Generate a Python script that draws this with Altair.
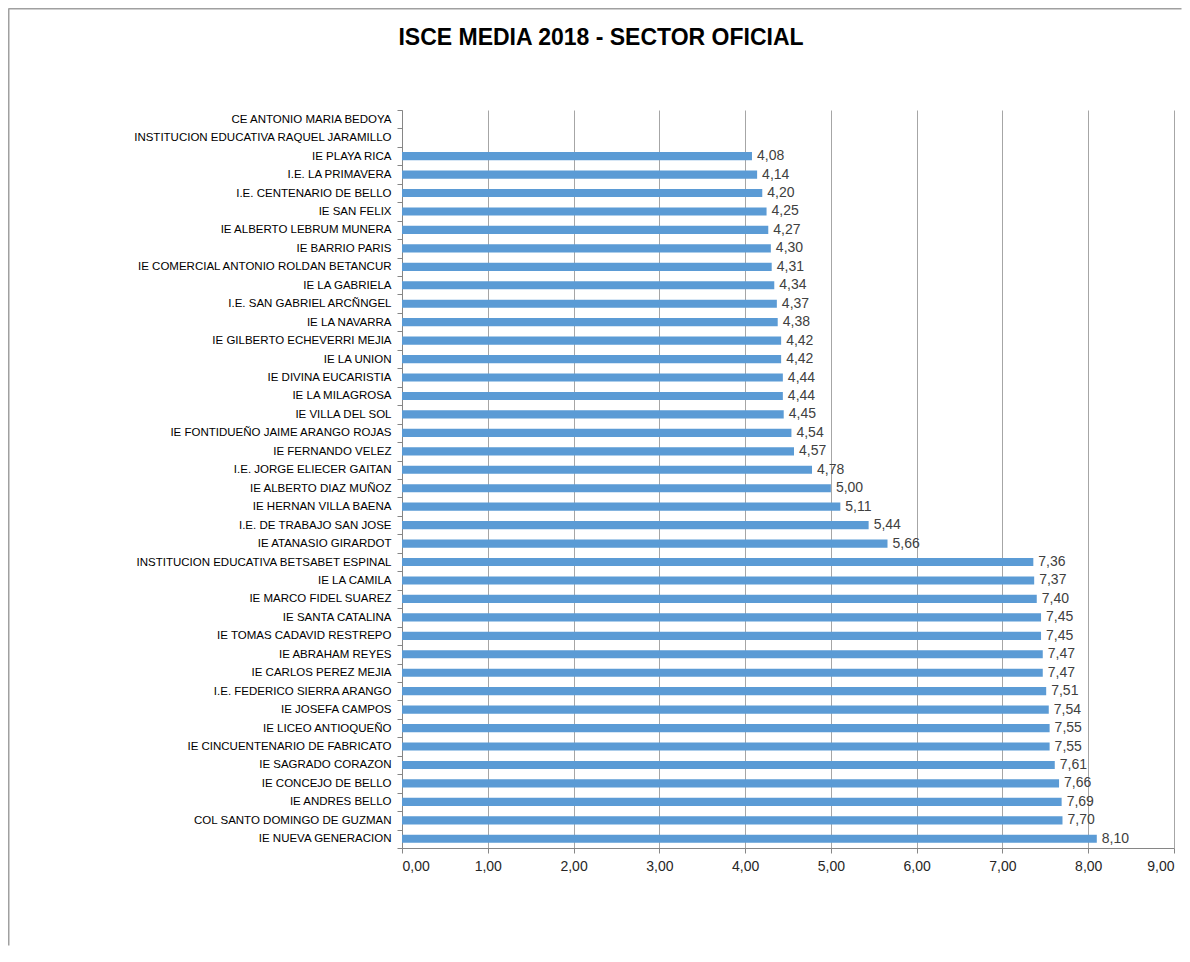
import altair as alt
import pandas as pd

schools = [
    "CE ANTONIO MARIA BEDOYA",
    "INSTITUCION EDUCATIVA RAQUEL JARAMILLO",
    "IE PLAYA RICA",
    "I.E. LA PRIMAVERA",
    "I.E. CENTENARIO DE BELLO",
    "IE SAN  FELIX",
    "IE ALBERTO LEBRUM MUNERA",
    "IE BARRIO PARIS",
    "IE COMERCIAL ANTONIO ROLDAN BETANCUR",
    "IE LA GABRIELA",
    "I.E. SAN GABRIEL ARCÑNGEL",
    "IE LA NAVARRA",
    "IE GILBERTO ECHEVERRI MEJIA",
    "IE LA UNION",
    "IE DIVINA EUCARISTIA",
    "IE LA MILAGROSA",
    "IE VILLA DEL SOL",
    "IE FONTIDUEÑO JAIME ARANGO ROJAS",
    "IE FERNANDO VELEZ",
    "I.E. JORGE ELIECER GAITAN",
    "IE ALBERTO DIAZ MUÑOZ",
    "IE HERNAN VILLA BAENA",
    "I.E. DE TRABAJO SAN JOSE",
    "IE ATANASIO GIRARDOT",
    "INSTITUCION EDUCATIVA BETSABET ESPINAL",
    "IE LA CAMILA",
    "IE MARCO FIDEL SUAREZ",
    "IE SANTA CATALINA",
    "IE TOMAS CADAVID RESTREPO",
    "IE ABRAHAM REYES",
    "IE CARLOS PEREZ MEJIA",
    "I.E. FEDERICO SIERRA ARANGO",
    "IE JOSEFA CAMPOS",
    "IE LICEO ANTIOQUEÑO",
    "IE CINCUENTENARIO DE FABRICATO",
    "IE SAGRADO CORAZON",
    "IE CONCEJO DE BELLO",
    "IE ANDRES BELLO",
    "COL SANTO DOMINGO DE GUZMAN",
    "IE NUEVA GENERACION",
]

isce = [
    None, None, 4.08, 4.14, 4.20, 4.25, 4.27, 4.30, 4.31, 4.34,
    4.37, 4.38, 4.42, 4.42, 4.44, 4.44, 4.45, 4.54, 4.57, 4.78,
    5.00, 5.11, 5.44, 5.66, 7.36, 7.37, 7.40, 7.45, 7.45, 7.47,
    7.47, 7.51, 7.54, 7.55, 7.55, 7.61, 7.66, 7.69, 7.70, 8.10,
]

x_ticks = [0, 1, 2, 3, 4, 5, 6, 7, 8, 9]
title_text = "ISCE MEDIA 2018 -  SECTOR OFICIAL"

df = pd.DataFrame({"school": schools, "isce": isce})

FONT = "Liberation Sans"
W, H = 772, 738

x_enc = alt.X(
    "isce:Q",
    scale=alt.Scale(domain=[0, 9], nice=False, zero=True),
    axis=alt.Axis(
        title=None,
        values=x_ticks,
        labelExpr="replace(format(datum.value, '.2f'), '.', ',')",
        grid=True,
        gridColor="#A6A6A6",
        gridWidth=1,
        domainColor="#868686",
        tickColor="#868686",
        tickSize=5,
        labelPadding=6,
        labelFont=FONT,
        labelFontSize=14,
        labelColor="#262626",
    ),
)

y_enc = alt.Y(
    "school:N",
    scale=alt.Scale(domain=schools, paddingInner=0, paddingOuter=0),
    axis=alt.Axis(
        title=None,
        tickBand="extent",
        grid=False,
        domainColor="#868686",
        tickColor="#868686",
        tickSize=5,
        labelPadding=6,
        labelFont=FONT,
        labelFontSize=11.5,
        labelColor="#000000",
        labelLimit=500,
    ),
)

bars = alt.Chart(df).mark_bar(
    color="#5B9BD5", height=alt.RelativeBandSize(0.44)
).encode(x=x_enc, y=y_enc)

labels = (
    alt.Chart(df)
    .transform_filter("isValid(datum.isce)")
    .transform_calculate(lbl="replace(format(datum.isce, '.2f'), '.', ',')")
    .mark_text(align="left", baseline="middle", dx=5, font=FONT, fontSize=14, color="#404040")
    .encode(x=x_enc, y=y_enc, text="lbl:N")
)

frame_df = pd.DataFrame({"k": [0]})
top_border = alt.Chart(frame_df).mark_rule(color="#A0A0A0", strokeWidth=2).encode(
    x=alt.value(-393.5), x2=alt.value(W + 7.5), y=alt.value(-101.5)
)
left_border = alt.Chart(frame_df).mark_rule(color="#A0A0A0", strokeWidth=2).encode(
    x=alt.value(-393.5), y=alt.value(-101.5), y2=alt.value(H + 97.5)
)

chart = (
    alt.layer(bars, labels, top_border, left_border)
    .properties(
        width=W,
        height=H,
        autosize=alt.AutoSizeParams(type="none"),
        padding={"left": 394, "top": 102, "right": 8, "bottom": 98},
        title=alt.TitleParams(
            text=title_text,
            anchor="middle",
            frame="group",
            dx=-187,
            dy=42,
            offset=0,
            font=FONT,
            fontSize=23,
            fontWeight="bold",
            color="#000000",
        ),
    )
    .configure_view(stroke=None)
)

chart.save("out.html", embed_options={"renderer": "svg", "actions": False})
